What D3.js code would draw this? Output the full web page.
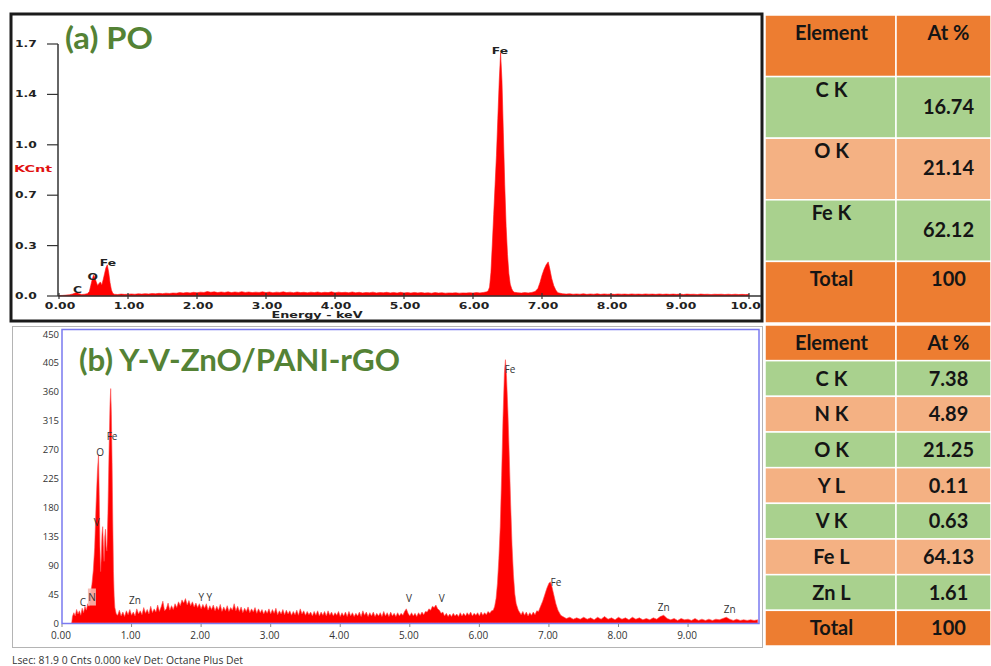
<!DOCTYPE html>
<html>
<head>
<meta charset="utf-8">
<script src="https://cdn.jsdelivr.net/npm/d3@7"></script>
<style>
  html, body { margin: 0; padding: 0; background: #fff; }
  svg { display: block; }
</style>
</head>
<body>
<div class="graph"></div>
<script>
// ---- data ----

// (a) PO spectrum: [energy keV, KCnt]
const spectrumA = [
  [0.00,0.003],[0.05,0.004],[0.10,0.006],[0.15,0.008],[0.20,0.014],[0.23,0.020],[0.26,0.024],[0.29,0.016],
  [0.33,0.010],[0.37,0.012],[0.41,0.016],[0.44,0.030],[0.46,0.070],[0.48,0.110],[0.50,0.140],[0.52,0.125],
  [0.54,0.095],[0.56,0.070],[0.58,0.085],[0.60,0.095],[0.62,0.075],[0.64,0.110],[0.66,0.150],[0.68,0.190],
  [0.70,0.210],[0.72,0.160],[0.74,0.090],[0.76,0.040],[0.78,0.018],
  [0.80,0.012],[0.85,0.010],[0.90,0.013],[0.95,0.011],[1.00,0.012],[1.05,0.014],[1.10,0.012],[1.15,0.015],
  [1.20,0.013],[1.25,0.016],[1.30,0.014],[1.35,0.017],[1.40,0.015],[1.45,0.018],[1.50,0.016],[1.55,0.019],
  [1.60,0.017],[1.65,0.020],[1.70,0.019],[1.75,0.023],[1.80,0.020],[1.85,0.024],[1.90,0.021],[1.95,0.025],
  [2.00,0.022],[2.05,0.026],[2.10,0.024],[2.15,0.030],[2.20,0.025],[2.25,0.028],[2.30,0.023],[2.35,0.027],
  [2.40,0.024],[2.45,0.028],[2.50,0.023],[2.55,0.027],[2.60,0.024],[2.65,0.029],[2.70,0.024],[2.75,0.027],
  [2.80,0.023],[2.85,0.026],[2.90,0.024],[2.95,0.028],[3.00,0.023],[3.05,0.027],[3.10,0.022],[3.15,0.026],
  [3.20,0.024],[3.25,0.028],[3.30,0.023],[3.35,0.026],[3.40,0.022],[3.45,0.027],[3.50,0.023],[3.55,0.025],
  [3.60,0.022],[3.65,0.026],[3.70,0.023],[3.75,0.027],[3.80,0.022],[3.85,0.025],[3.90,0.023],[3.95,0.028],
  [4.00,0.022],[4.05,0.026],[4.10,0.023],[4.15,0.025],[4.20,0.022],[4.25,0.027],[4.30,0.022],[4.35,0.025],
  [4.40,0.021],[4.45,0.024],[4.50,0.022],[4.55,0.026],[4.60,0.021],[4.65,0.024],[4.70,0.022],[4.75,0.025],
  [4.80,0.021],[4.85,0.024],[4.90,0.020],[4.95,0.025],[5.00,0.021],[5.05,0.023],[5.10,0.020],[5.15,0.024],
  [5.20,0.021],[5.25,0.023],[5.30,0.020],[5.35,0.022],[5.40,0.019],[5.45,0.023],[5.50,0.020],[5.55,0.022],
  [5.60,0.019],[5.65,0.021],[5.70,0.020],[5.75,0.022],[5.80,0.019],[5.85,0.021],[5.90,0.020],[5.95,0.022],
  [6.00,0.020],[6.05,0.023],[6.10,0.021],[6.15,0.024],
  [6.20,0.028],[6.22,0.035],[6.24,0.060],[6.26,0.160],[6.28,0.350],[6.30,0.550],[6.32,0.750],[6.34,0.950],
  [6.36,1.200],[6.38,1.450],[6.40,1.640],[6.42,1.450],[6.44,1.100],[6.46,0.750],[6.48,0.470],[6.50,0.280],
  [6.52,0.150],[6.54,0.080],[6.56,0.050],[6.58,0.032],
  [6.60,0.025],[6.65,0.022],[6.70,0.020],[6.75,0.023],[6.80,0.021],[6.85,0.024],[6.90,0.030],
  [6.94,0.050],[6.97,0.090],[7.00,0.140],[7.03,0.180],[7.06,0.210],[7.09,0.230],[7.11,0.190],[7.14,0.120],
  [7.17,0.070],[7.20,0.040],[7.23,0.022],
  [7.30,0.015],[7.35,0.013],[7.40,0.015],[7.45,0.012],[7.50,0.014],[7.55,0.012],[7.60,0.015],[7.65,0.011],
  [7.70,0.014],[7.75,0.012],[7.80,0.015],[7.85,0.011],[7.90,0.014],[7.95,0.012],[8.00,0.013],[8.05,0.011],
  [8.10,0.014],[8.15,0.012],[8.20,0.013],[8.25,0.011],[8.30,0.014],[8.35,0.012],[8.40,0.013],[8.45,0.011],
  [8.50,0.014],[8.55,0.012],[8.60,0.013],[8.65,0.011],[8.70,0.014],[8.75,0.011],[8.80,0.013],[8.85,0.011],
  [8.90,0.013],[8.95,0.011],[9.00,0.013],[9.05,0.010],[9.10,0.013],[9.15,0.011],[9.20,0.012],[9.25,0.010],
  [9.30,0.013],[9.35,0.011],[9.40,0.012],[9.45,0.010],[9.50,0.012],[9.55,0.011],[9.60,0.012],[9.65,0.010],
  [9.70,0.012],[9.75,0.010],[9.80,0.012],[9.85,0.010],[9.90,0.011],[9.95,0.010],[10.00,0.011]
];

// (b) Y-V-ZnO/PANI-rGO spectrum: [energy keV, counts]
const spectrumB = [
  [0.14,0],[0.15,10],[0.17,16],[0.19,11],[0.21,21],[0.23,14],[0.25,19],[0.27,12],[0.29,23],[0.31,16],
  [0.33,26],[0.35,20],[0.37,30],[0.39,26],[0.41,45],[0.43,60],[0.45,82],[0.47,118],[0.49,185],[0.51,238],
  [0.525,262],[0.535,200],[0.545,120],[0.555,80],[0.565,104],[0.575,138],[0.585,150],[0.595,122],[0.605,96],
  [0.615,134],[0.625,146],[0.635,120],[0.645,112],[0.66,170],[0.675,260],[0.69,340],[0.70,365],[0.71,325],
  [0.72,250],[0.73,160],[0.74,80],[0.75,42],[0.76,24],[0.78,14],
  [0.80,12],[0.825,20],[0.85,11],[0.875,17],[0.90,10],[0.925,19],[0.95,13],[0.975,21],[1.00,12],[1.025,17],
  [1.05,11],[1.075,22],[1.10,14],[1.125,19],[1.15,13],[1.175,24],[1.20,15],[1.225,21],[1.25,14],[1.275,26],
  [1.30,16],[1.325,22],[1.35,17],[1.375,28],[1.40,18],[1.425,25],[1.45,34],[1.475,19],[1.50,22],[1.525,31],
  [1.55,20],[1.575,27],[1.60,21],[1.625,30],[1.65,24],[1.675,33],[1.70,27],[1.725,36],[1.75,31],[1.775,38],
  [1.80,28],[1.825,35],[1.85,27],[1.875,33],[1.90,25],[1.925,31],[1.95,24],[1.975,30],[2.00,22],[2.025,29],
  [2.05,23],[2.075,30],[2.10,20],[2.125,27],[2.15,21],[2.175,28],[2.20,19],[2.225,26],[2.25,20],[2.275,29],
  [2.30,18],[2.325,25],[2.35,19],[2.375,27],[2.40,18],[2.425,24],[2.45,20],[2.475,30],[2.50,19],[2.525,26],
  [2.55,18],[2.575,25],[2.60,16],[2.625,23],[2.65,18],[2.675,25],[2.70,16],[2.725,22],[2.75,17],[2.775,24],
  [2.80,15],[2.825,22],[2.85,16],[2.875,21],[2.90,14],[2.925,20],[2.95,15],[2.975,22],[3.00,14],[3.025,21],
  [3.05,15],[3.075,23],[3.10,13],[3.125,19],[3.15,14],[3.175,21],[3.20,13],[3.225,20],[3.25,14],[3.275,19],
  [3.30,12],[3.325,18],[3.35,13],[3.375,20],[3.40,12],[3.425,22],[3.45,14],[3.475,19],[3.50,12],[3.525,18],
  [3.55,13],[3.575,17],[3.60,11],[3.625,18],[3.65,12],[3.675,19],[3.70,11],[3.725,17],[3.75,12],[3.775,18],
  [3.80,11],[3.825,19],[3.85,12],[3.875,17],[3.90,11],[3.925,16],[3.95,12],[3.975,18],[4.00,10],[4.025,16],
  [4.05,11],[4.075,17],[4.10,10],[4.125,18],[4.15,11],[4.175,16],[4.20,10],[4.225,15],[4.25,11],[4.275,17],
  [4.30,10],[4.325,19],[4.35,12],[4.375,17],[4.40,10],[4.425,16],[4.45,11],[4.475,17],[4.50,10],[4.525,15],
  [4.55,11],[4.575,16],[4.60,10],[4.625,18],[4.65,11],[4.675,16],[4.70,10],[4.725,17],[4.75,11],[4.775,15],
  [4.80,10],[4.825,16],[4.85,11],[4.875,15],[4.90,12],[4.925,18],[4.95,22],[4.975,15],[5.00,11],[5.025,16],
  [5.05,11],[5.075,15],[5.10,10],[5.125,16],[5.15,12],[5.175,17],[5.20,13],[5.225,18],[5.25,17],[5.275,22],
  [5.30,20],[5.325,26],[5.35,24],[5.375,28],[5.40,22],[5.425,20],[5.45,15],[5.475,17],[5.50,11],[5.525,15],
  [5.55,10],[5.575,14],[5.60,10],[5.625,15],[5.65,11],[5.675,14],[5.70,10],[5.725,16],[5.75,11],[5.775,15],
  [5.80,11],[5.825,16],[5.85,12],[5.875,17],[5.90,11],[5.925,15],[5.95,12],[5.975,16],[6.00,11],[6.025,17],
  [6.05,12],[6.075,16],[6.10,13],[6.125,18],[6.15,15],[6.175,19],
  [6.20,20],[6.22,26],[6.24,38],[6.26,62],[6.28,100],[6.30,150],[6.32,230],[6.34,320],[6.36,390],
  [6.375,410],[6.39,385],[6.41,330],[6.43,260],[6.45,185],[6.47,120],[6.49,75],[6.51,45],[6.53,30],[6.56,20],
  [6.60,13],[6.625,18],[6.65,12],[6.675,17],[6.70,11],[6.725,16],[6.75,12],[6.775,17],[6.80,13],[6.825,19],[6.85,18],
  [6.88,26],[6.91,34],[6.94,44],[6.97,54],[7.00,62],[7.02,64],[7.04,58],[7.07,44],[7.10,30],[7.13,20],[7.17,12],
  [7.20,10],[7.25,7],[7.30,9],[7.35,6],[7.40,8],[7.45,6],[7.50,9],[7.55,6],[7.60,8],[7.65,5],[7.70,9],
  [7.75,6],[7.80,10],[7.85,6],[7.90,8],[7.95,5],[8.00,9],[8.05,6],[8.10,8],[8.15,5],[8.20,9],[8.25,6],
  [8.30,8],[8.35,5],[8.40,7],[8.45,5],[8.50,8],[8.55,6],[8.60,10],[8.65,12],[8.70,7],[8.75,5],[8.80,7],
  [8.85,4],[8.90,7],[8.95,5],[9.00,6],[9.05,4],[9.10,7],[9.15,4],[9.20,6],[9.25,4],[9.30,6],[9.35,4],
  [9.40,6],[9.45,5],[9.50,7],[9.55,9],[9.60,6],[9.65,4],[9.70,6],[9.75,4],[9.80,5],[9.85,4],[9.90,5],
  [9.95,4],[10.00,5]
];

// peak labels: text, keV, value at the label baseline
const peakLabelsA = [
  { t: "C", e: 0.27, v: 0.020 },
  { t: "O", e: 0.49, v: 0.108 },
  { t: "Fe", e: 0.71, v: 0.203 },
  { t: "Fe", e: 6.39, v: 1.633 },
];
const peakLabelsB = [
  { t: "C", e: 0.30, v: 26 },
  { t: "N", e: 0.43, v: 35, mark: true },
  { t: "V", e: 0.50, v: 151 },
  { t: "O", e: 0.55, v: 260 },
  { t: "Fe", e: 0.72, v: 285 },
  { t: "Zn", e: 1.05, v: 30 },
  { t: "Y Y", e: 2.06, v: 35 },
  { t: "V", e: 4.99, v: 33 },
  { t: "V", e: 5.46, v: 33 },
  { t: "Fe", e: 6.44, v: 389 },
  { t: "Fe", e: 7.10, v: 57 },
  { t: "Zn", e: 8.65, v: 19 },
  { t: "Zn", e: 9.60, v: 16 },
];

// axis ticks
const ticksA_y = [0, 0.34, 0.68, 1.02, 1.36, 1.7];
const tickLabelsA_y = ["0.0", "0.3", "0.7", "1.0", "1.4", "1.7"];
const ticksA_x = [0, 1, 2, 3, 4, 5, 6, 7, 8, 9, 10];
const ticksB_y = [0, 45, 90, 135, 180, 225, 270, 315, 360, 405, 450];
const ticksB_x = [0, 1, 2, 3, 4, 5, 6, 7, 8, 9];

// tables
const tableAElements = ["C K", "O K", "Fe K"];
const tableAValues = ["16.74", "21.14", "62.12"];
const tableBElements = ["C K", "N K", "O K", "Y L", "V K", "Fe L", "Zn L"];
const tableBValues = ["7.38", "4.89", "21.25", "0.11", "0.63", "64.13", "1.61"];
const tableTotal = "100";

// ---- drawing ----
const width = 991;
const height = 666;
const GREEN_TITLE = "#548235";
const ORANGE = "#ED7D31";
const CELL_GREEN = "#A9D18E";
const CELL_SALMON = "#F4B183";

const svg = d3
  .select(".graph")
  .append("svg")
  .attr("width", width)
  .attr("height", height)
  .attr("viewBox", [0, 0, width, height]);

// helper for the horizontally stretched instrument fonts
const placeText = (sel, sx) =>
  sel.attr("transform", (d) => `translate(${d.px},${d.py}) scale(${sx},1)`);

// ===== panel (a) =====
const xA = d3.scaleLinear().domain([0, 10]).range([59, 749]);
const yA = d3.scaleLinear().domain([0, 1.7]).range([296, 44]);

svg.append("clipPath").attr("id", "clipA")
  .append("rect").attr("x", 11).attr("y", 14).attr("width", 751).attr("height", 307);

const gA = svg.append("g").attr("clip-path", "url(#clipA)");

svg.append("rect")
  .attr("x", 11).attr("y", 14).attr("width", 751).attr("height", 307)
  .attr("fill", "none").attr("stroke", "#1b1b1b").attr("stroke-width", 3);

const areaA = d3.area()
  .x((d) => xA(d[0]))
  .y0(yA(0))
  .y1((d) => yA(d[1]));

gA.append("path")
  .datum(spectrumA)
  .attr("fill", "#ff0000")
  .attr("stroke", "#ff1a1a")
  .attr("stroke-width", 0.6)
  .attr("d", areaA);

// axes (a)
gA.append("line")
  .attr("x1", 58).attr("x2", 58).attr("y1", yA(1.7)).attr("y2", yA(0))
  .attr("stroke", "#333").attr("stroke-width", 1.5);
gA.append("line")
  .attr("x1", 58).attr("x2", 763).attr("y1", yA(0)).attr("y2", yA(0))
  .attr("stroke", "#333").attr("stroke-width", 1.5);

gA.append("g")
  .selectAll()
  .data(ticksA_y)
  .join("line")
  .attr("x1", 47).attr("x2", 58)
  .attr("y1", (d) => yA(d)).attr("y2", (d) => yA(d))
  .attr("stroke", "#333").attr("stroke-width", 1.2);

gA.append("g")
  .selectAll()
  .data(ticksA_y.map((d, i) => ({ px: 15, py: yA(d) + 3, t: tickLabelsA_y[i] })))
  .join("text")
  .call(placeText, 1.45)
  .attr("font-family", "DejaVu Sans")
  .attr("font-weight", "bold")
  .attr("font-size", 8.5)
  .attr("fill", "#222")
  .text((d) => d.t);

gA.append("g")
  .selectAll()
  .data(ticksA_x)
  .join("line")
  .attr("x1", (d) => xA(d)).attr("x2", (d) => xA(d))
  .attr("y1", yA(0) - 3).attr("y2", yA(0) + 3)
  .attr("stroke", "#333").attr("stroke-width", 1.2);

gA.append("g")
  .selectAll()
  .data(ticksA_x.map((d) => ({ px: xA(d) + 1, py: 308.5, t: d3.format(".2f")(d) })))
  .join("text")
  .call(placeText, 1.3)
  .attr("text-anchor", "middle")
  .attr("font-family", "DejaVu Sans")
  .attr("font-weight", "bold")
  .attr("font-size", 9.5)
  .attr("fill", "#222")
  .text((d) => d.t);

gA.append("text")
  .datum({ px: 317, py: 317.5 })
  .call(placeText, 1.42)
  .attr("text-anchor", "middle")
  .attr("font-family", "DejaVu Sans")
  .attr("font-weight", "bold")
  .attr("font-size", 9)
  .attr("fill", "#222")
  .text("Energy - keV");

gA.append("text")
  .datum({ px: 14, py: 171.5 })
  .call(placeText, 1.6)
  .attr("font-family", "DejaVu Sans")
  .attr("font-weight", "bold")
  .attr("font-size", 9)
  .attr("fill", "#e01010")
  .text("KCnt");

gA.append("g")
  .selectAll()
  .data(peakLabelsA.map((d) => ({ px: xA(d.e), py: yA(d.v), t: d.t })))
  .join("text")
  .call(placeText, 1.45)
  .attr("text-anchor", "middle")
  .attr("font-family", "DejaVu Sans")
  .attr("font-weight", "bold")
  .attr("font-size", 8.5)
  .attr("fill", "#222")
  .text((d) => d.t);

gA.append("text")
  .attr("x", 65).attr("y", 49)
  .attr("font-family", "Lato")
  .attr("font-weight", "bold")
  .attr("font-size", 30)
  .attr("textLength", 88)
  .attr("lengthAdjust", "spacingAndGlyphs")
  .attr("fill", GREEN_TITLE)
  .text("(a) PO");

// ===== panel (b) =====
const xB = d3.scaleLinear().domain([0, 10.02]).range([62, 759]);
const yB = d3.scaleLinear().domain([0, 450]).range([623, 334]);

svg.append("rect")
  .attr("x", 12.5).attr("y", 326.5).attr("width", 750).attr("height", 321)
  .attr("fill", "#fff").attr("stroke", "#b4b4b4").attr("stroke-width", 1);

svg.append("clipPath").attr("id", "clipB")
  .append("rect").attr("x", 62).attr("y", 329).attr("width", 697).attr("height", 295);

const areaB = d3.area()
  .x((d) => xB(d[0]))
  .y0(yB(0))
  .y1((d) => yB(d[1]));

svg.append("g").attr("clip-path", "url(#clipB)")
  .append("path")
  .datum(spectrumB)
  .attr("fill", "#ff0000")
  .attr("stroke", "#ff4d4d")
  .attr("stroke-width", 0.6)
  .attr("d", areaB);

svg.append("rect")
  .attr("x", 62).attr("y", 329.5).attr("width", 697).attr("height", 294)
  .attr("fill", "none").attr("stroke", "#7a7af0").attr("stroke-width", 1.5);

svg.append("g")
  .selectAll()
  .data(ticksB_y)
  .join("text")
  .attr("x", 59)
  .attr("y", (d) => yB(d) + 3.5)
  .attr("text-anchor", "end")
  .attr("font-family", "Open Sans")
  .attr("font-size", 9.5)
  .attr("fill", "#333")
  .text((d) => d);

svg.append("g")
  .selectAll()
  .data(ticksB_x)
  .join("line")
  .attr("x1", (d) => xB(d)).attr("x2", (d) => xB(d))
  .attr("y1", 624).attr("y2", 627)
  .attr("stroke", "#888");

svg.append("g")
  .selectAll()
  .data(ticksB_x)
  .join("text")
  .attr("x", (d) => xB(d) - 1)
  .attr("y", 639)
  .attr("text-anchor", "middle")
  .attr("font-family", "Open Sans")
  .attr("font-size", 10)
  .attr("fill", "#333")
  .text((d) => d3.format(".2f")(d));

// highlight box behind the N marker
svg.append("g")
  .selectAll()
  .data(peakLabelsB.filter((d) => d.mark))
  .join("rect")
  .attr("x", (d) => xB(d.e) - 4)
  .attr("y", (d) => yB(d.v) - 12)
  .attr("width", 8)
  .attr("height", 17)
  .attr("fill", "#f5b9b0")
  .attr("opacity", 0.9);

svg.append("g")
  .selectAll()
  .data(peakLabelsB)
  .join("text")
  .attr("x", (d) => xB(d.e))
  .attr("y", (d) => yB(d.v))
  .attr("text-anchor", "middle")
  .attr("font-family", "Open Sans")
  .attr("font-size", 10)
  .attr("fill", "#333")
  .text((d) => d.t);

svg.append("text")
  .attr("x", 79).attr("y", 371)
  .attr("font-family", "Lato")
  .attr("font-weight", "bold")
  .attr("font-size", 30)
  .attr("textLength", 321)
  .attr("lengthAdjust", "spacingAndGlyphs")
  .attr("fill", GREEN_TITLE)
  .text("(b) Y-V-ZnO/PANI-rGO");

svg.append("text")
  .attr("x", 12).attr("y", 664)
  .attr("font-family", "Open Sans")
  .attr("font-size", 10)
  .attr("textLength", 231)
  .attr("lengthAdjust", "spacingAndGlyphs")
  .attr("fill", "#333")
  .text("Lsec: 81.9 0 Cnts  0.000 keV Det: Octane Plus Det");

// ===== tables =====
const colX = [765, 896, 991];

const drawTable = (rows, top, bottom, labelDy, valueDy) => {
  const yScale = d3.scaleBand().domain(d3.range(rows.length)).range([top, bottom]);
  const g = svg.append("g");

  g.selectAll()
    .data(rows)
    .join("g")
    .each(function (row, i) {
      const y0 = yScale(i);
      const h = yScale.bandwidth();
      const cell = d3.select(this);
      [0, 1].forEach((c) => {
        cell.append("rect")
          .attr("x", colX[c]).attr("y", y0)
          .attr("width", colX[c + 1] - colX[c]).attr("height", h)
          .attr("fill", row.fill)
          .attr("stroke", "#fff").attr("stroke-width", 1.5);
      });
      cell.append("text")
        .attr("x", (colX[0] + colX[1]) / 2 + 1)
        .attr("y", y0 + labelDy(row, h))
        .attr("text-anchor", "middle")
        .attr("font-family", "Lato")
        .attr("font-weight", "bold")
        .attr("font-size", 20)
        .attr("fill", "#151515")
        .text(row.label);
      cell.append("text")
        .attr("x", (colX[1] + colX[2]) / 2 + 5)
        .attr("y", y0 + valueDy(row, h))
        .attr("text-anchor", "middle")
        .attr("font-family", "Lato")
        .attr("font-weight", "bold")
        .attr("font-size", 20)
        .attr("fill", "#151515")
        .text(row.value);
    });
};

const rowsOf = (elements, values) => [
  { label: "Element", value: "At %", fill: ORANGE, edge: true },
  ...elements.map((e, i) => ({
    label: e,
    value: values[i],
    fill: i % 2 === 0 ? CELL_GREEN : CELL_SALMON,
  })),
  { label: "Total", value: tableTotal, fill: ORANGE, edge: true },
];

// top table: text sits high in the tall cells, numbers lower
drawTable(
  rowsOf(tableAElements, tableAValues),
  15, 323,
  (row, h) => (row.edge ? 25 : 20),
  (row, h) => (row.edge ? 25 : 37),
);

// bottom table: everything centred
drawTable(
  rowsOf(tableBElements, tableBValues),
  325, 646,
  (row, h) => h / 2 + 7,
  (row, h) => h / 2 + 7,
);
</script>
</body>
</html>
